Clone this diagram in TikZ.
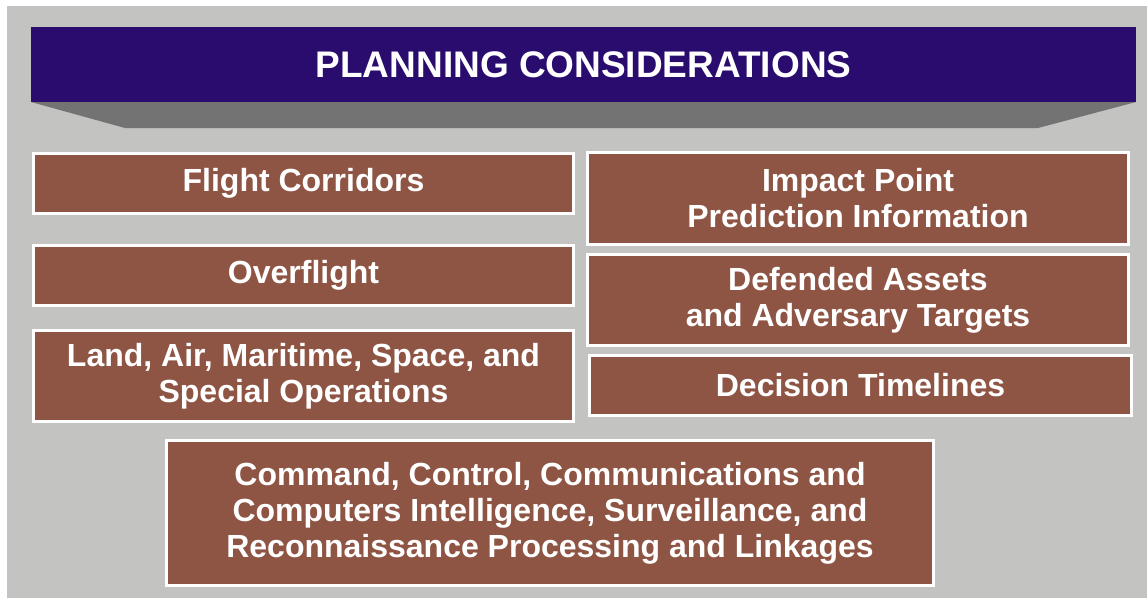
\documentclass[tikz,border=0pt]{standalone}
\usepackage{fontspec}
\setmainfont{Liberation Sans}
\definecolor{bgray}{HTML}{C3C3C1}
\definecolor{banner}{HTML}{2A0C6E}
\definecolor{shadowgray}{HTML}{737373}
\definecolor{brick}{HTML}{8E5544}
\tikzset{
  item/.style={draw=white, line width=2.5pt, fill=brick, text=white,
    font=\bfseries\fontsize{32}{36}\selectfont, align=center,
    inner sep=0pt, outer sep=0pt, minimum width=540pt},
  titlebox/.style={fill=banner, text=white, inner sep=0pt, outer sep=0pt,
    font=\bfseries\fontsize{37}{40}\selectfont, minimum width=1105pt, minimum height=75pt}
}
\begin{document}
\begin{tikzpicture}[x=1pt,y=-1pt]
\useasboundingbox (0,0) rectangle (1147,598);
\fill[white] (0,0) rectangle (1147,598);
\fill[bgray] (7,6) rectangle (1147,598);
\fill[shadowgray] (31,102) -- (1136,102) -- (1038,128) -- (125,128) -- cycle;
\node[titlebox] (title) at (583.5,64.5) {PLANNING CONSIDERATIONS};
\node[item, minimum height=60pt] (fc) at (303.5,183.5) {Flight Corridors};
\node[item, minimum height=60pt] (ov) at (303.5,275.5) {Overflight};
\node[item, minimum height=91pt] (land) at (303.5,376) {Land, Air, Maritime, Space, and\\Special Operations};
\node[item, minimum width=541pt, minimum height=92pt] (imp) at (858,198.5) {Impact Point\\Prediction Information};
\node[item, minimum width=541pt, minimum height=91pt] (def) at (858,300) {Defended Assets\\and Adversary Targets};
\node[item, minimum width=542pt, minimum height=60pt] (dec) at (860.5,385.5) {Decision Timelines};
\node[item, minimum width=767pt, minimum height=145pt] (c4) at (550,513) {Command, Control, Communications and\\Computers Intelligence, Surveillance, and\\Reconnaissance Processing and Linkages};
\end{tikzpicture}
\end{document}
